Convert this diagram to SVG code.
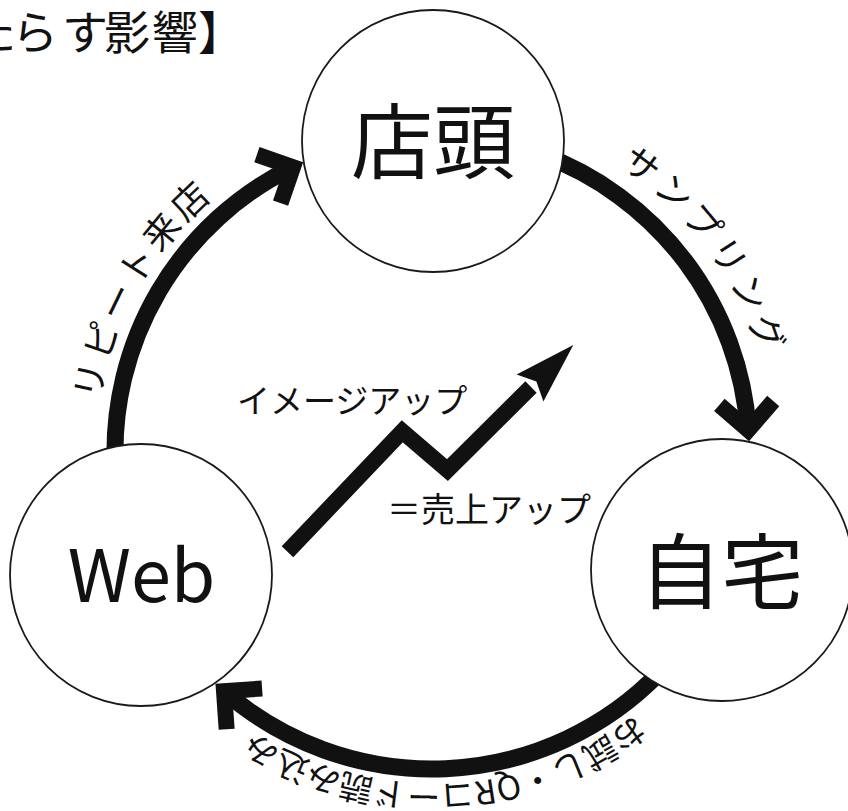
<svg xmlns="http://www.w3.org/2000/svg" width="848" height="811" viewBox="0 0 848 811">
  <style>
    .node { fill: #ffffff; stroke: #1a1a1a; stroke-width: 1.8; }
    .ntext { font-family: "Noto Sans CJK JP", "Noto Sans", sans-serif; font-size: 82px; fill: #111; text-anchor: middle; }
    .shaft { fill: none; stroke: #111; stroke-width: 17; stroke-linecap: butt; }
    .lbl { font-family: "Noto Sans CJK JP", sans-serif; font-size: 36px; fill: #111; }
    .mid { font-family: "Noto Sans CJK JP", sans-serif; font-size: 33px; fill: #111; }
    .title { font-family: "Noto Sans CJK JP", sans-serif; font-size: 46px; fill: #111; }
  </style>
  <defs>
    <marker id="chev" markerUnits="userSpaceOnUse" orient="auto" markerWidth="80" markerHeight="80" viewBox="-40 -40 80 80" refX="0" refY="0" overflow="visible">
      <path d="M-27,-27 L0,0 L-27,27" fill="none" stroke="#111" stroke-width="16" stroke-linejoin="miter" stroke-miterlimit="4"/>
    </marker>
    <path id="lp" d="M101.9,514.7 A336,336 0 0 1 313.0,137.8"/>
    <path id="rp" d="M512.4,119.6 A342,342 0 0 1 773.3,473.5"/>
    <path id="bp" d="M656.8,696.9 A332.5,332.5 0 0 1 229.8,716.0"/>
  </defs>

  <rect x="0" y="0" width="848" height="811" fill="#ffffff"/>

  <!-- title (partially cut) -->
  <text class="title" y="49"><tspan x="-30">た</tspan><tspan x="12">ら</tspan><tspan x="62">す</tspan><tspan x="104">影</tspan><tspan x="152">響</tspan><tspan x="198">】</tspan></text>

  <g id="connectors">
    <path class="shaft" d="M115.4,468.6 A317,317 0 0 1 293.0,167.1" marker-end="url(#chev)"/>
    <path class="shaft" d="M540.4,154.1 A317,317 0 0 1 748.2,429.9" marker-end="url(#chev)"/>
    <path class="shaft" d="M660.0,672.2 A317,317 0 0 1 224.0,691.2" marker-end="url(#chev)"/>
    <text class="lbl" letter-spacing="4"><textPath href="#lp" startOffset="50%" text-anchor="middle">リピート来店</textPath></text>
    <text class="lbl" letter-spacing="5"><textPath href="#rp" startOffset="50%" text-anchor="middle">サンプリング</textPath></text>
    <text class="lbl" style="font-size:33px"><textPath href="#bp" startOffset="50%" text-anchor="middle">お試し・QRコード読み込み</textPath></text>
  </g>

  <g id="growth">
    <polyline points="287.5,551.7 402.3,431.3 447.5,470 531,387" fill="none" stroke="#111" stroke-width="16" stroke-linejoin="miter" stroke-linecap="butt"/>
    <polygon points="573.3,345 516.6,374.5 536.4,381.6 543.4,401.5" fill="#111"/>
    <text class="mid" x="237" y="413">イメージアップ</text>
    <text class="mid" x="387" y="522" style="font-size:34px">＝売上アップ</text>
  </g>

  <g id="node-tento">
    <circle class="node" cx="433" cy="141" r="131"/>
    <text class="ntext" x="433" y="172">店頭</text>
  </g>
  <g id="node-web">
    <circle class="node" cx="141" cy="575" r="131"/>
    <text class="ntext" x="141.5" y="602" style="font-size:72px">Web</text>
  </g>
  <g id="node-jitaku">
    <circle class="node" cx="722" cy="570" r="131"/>
    <text class="ntext" x="721.5" y="602">自宅</text>
  </g>
</svg>
